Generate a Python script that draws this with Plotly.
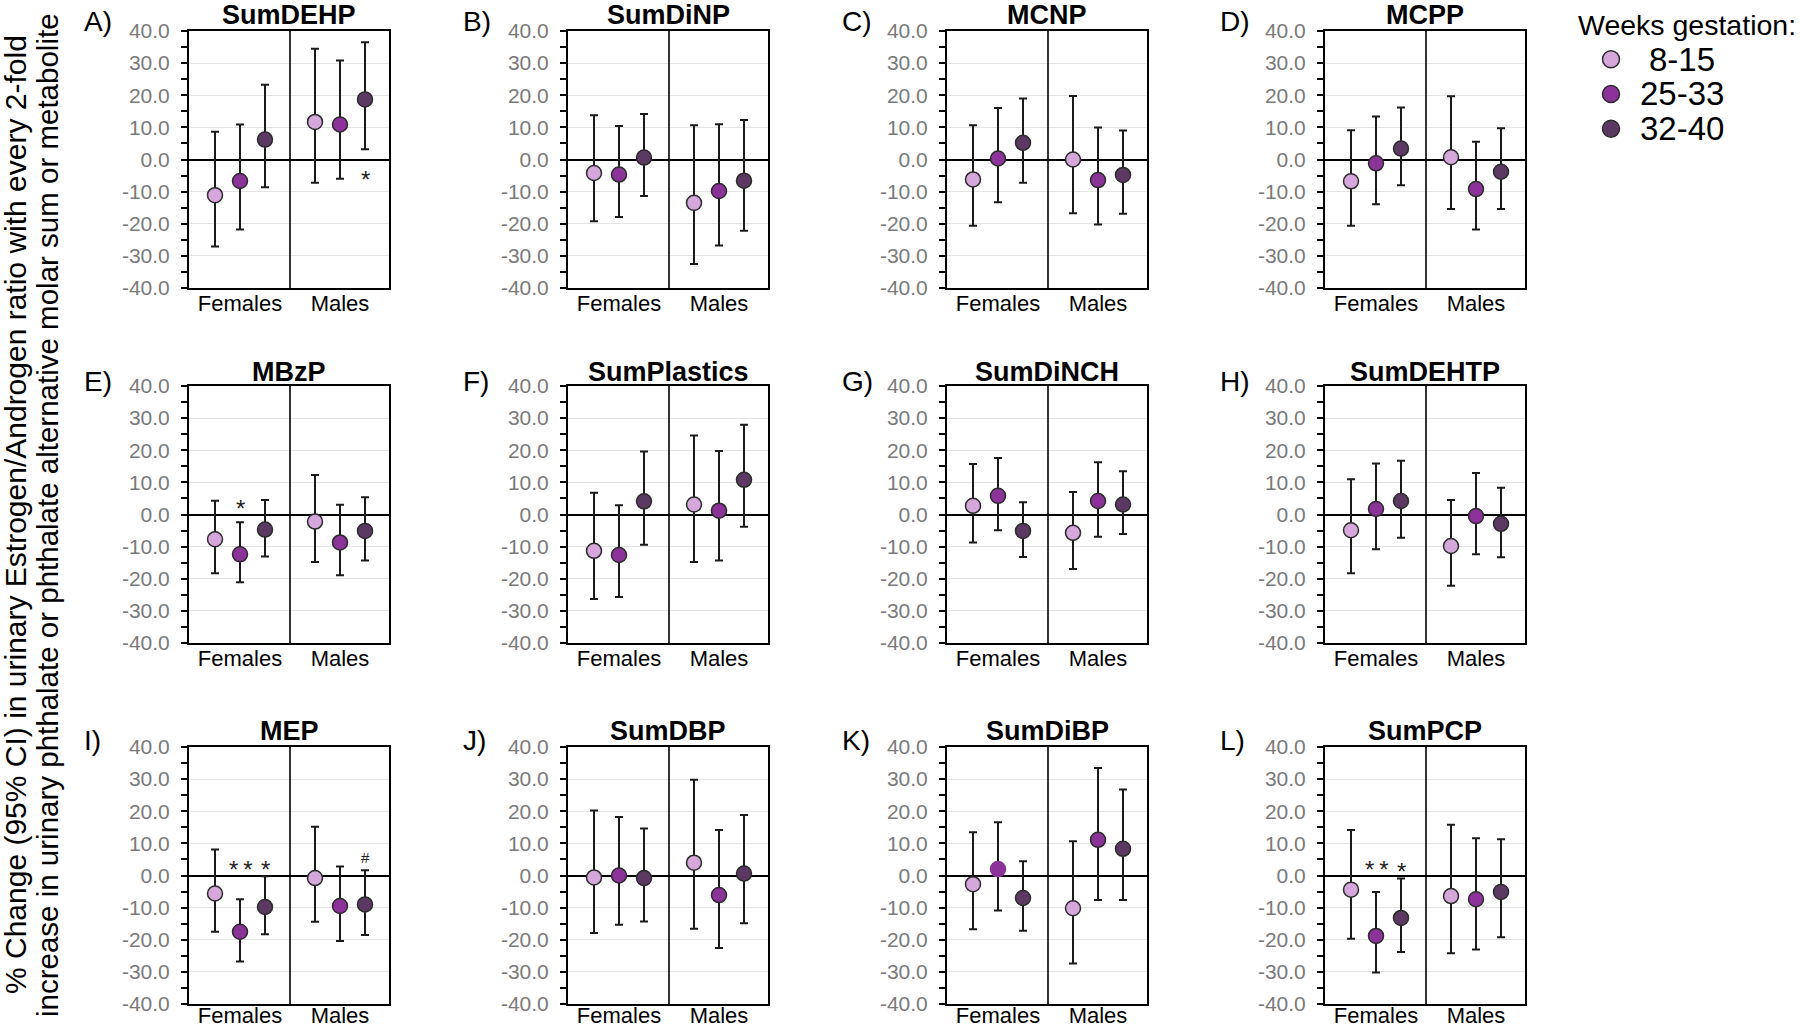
import plotly.graph_objects as go

# ---------------- data ----------------
panel_labels = ["A)", "B)", "C)", "D)", "E)", "F)", "G)", "H)", "I)", "J)", "K)", "L)"]
titles = ["SumDEHP", "SumDiNP", "MCNP", "MCPP", "MBzP", "SumPlastics",
          "SumDiNCH", "SumDEHTP", "MEP", "SumDBP", "SumDiBP", "SumPCP"]
groups = ["Females", "Males"]
windows = ["8-15", "25-33", "32-40"]
y_ticks = [-40, -30, -20, -10, 0, 10, 20, 30, 40]

# each entry: [Females, Males] per panel A..L
est_8_15 = [[-11.1, 11.7], [-4.2, -13.5], [-6.2, 0.0], [-6.8, 0.7], [-7.7, -2.2], [-11.3, 3.1],
            [2.7, -5.7], [-4.9, -9.8], [-5.6, -0.8], [-0.6, 4.0], [-2.7, -10.2], [-4.4, -6.4]]
lo_8_15 = [[-27.1, -7.2], [-19.2, -32.5], [-20.6, -16.7], [-20.6, -15.4], [-18.3, -14.8], [-26.3, -14.8],
           [-8.7, -17.0], [-18.3, -22.2], [-17.5, -14.4], [-17.9, -16.6], [-16.7, -27.4], [-19.7, -24.2]]
hi_8_15 = [[8.6, 34.5], [13.8, 10.7], [10.7, 19.8], [9.1, 19.7], [4.3, 12.3], [6.8, 24.6],
           [15.7, 7.0], [11.0, 4.5], [8.1, 15.2], [20.2, 29.8], [13.5, 10.7], [14.2, 15.8]]

est_25_33 = [[-6.7, 10.9], [-4.7, -9.8], [0.3, -6.4], [-1.2, -9.2], [-12.4, -8.7], [-12.6, 1.2],
             [5.8, 4.2], [1.7, -0.5], [-17.5, -9.5], [0.0, -6.1], [2.0, 11.1], [-18.8, -7.4]]
lo_25_33 = [[-21.8, -6.0], [-17.9, -26.8], [-13.3, -20.2], [-13.9, -21.8], [-21.1, -18.9], [-25.7, -14.3],
            [-4.9, -6.9], [-10.8, -12.4], [-26.8, -20.4], [-15.3, -22.6], [-10.9, -7.6], [-30.2, -23.0]]
hi_25_33 = [[10.9, 30.8], [10.4, 11.0], [16.0, 10.0], [13.4, 5.5], [-2.4, 3.0], [2.9, 19.8],
            [17.6, 16.3], [15.9, 12.9], [-7.4, 2.8], [18.2, 14.2], [16.6, 33.5], [-5.1, 11.6]]

est_32_40 = [[6.2, 18.7], [0.6, -6.6], [5.2, -4.8], [3.4, -3.8], [-4.7, -5.1], [4.1, 10.8],
             [-5.1, 3.1], [4.2, -2.9], [-9.8, -9.0], [-0.8, 0.6], [-7.0, 8.3], [-13.2, -5.1]]
lo_32_40 = [[-8.6, 3.2], [-11.4, -22.2], [-7.2, -16.9], [-8.0, -15.4], [-13.1, -14.3], [-9.4, -3.8],
            [-13.2, -6.1], [-7.2, -13.3], [-18.3, -18.5], [-14.3, -14.9], [-17.2, -7.6], [-23.8, -19.2]]
hi_32_40 = [[23.3, 36.5], [14.2, 12.3], [19.0, 9.0], [16.2, 9.7], [4.5, 5.4], [19.6, 27.9],
            [3.8, 13.5], [16.7, 8.3], [-0.2, 1.6], [14.6, 18.8], [4.4, 26.8], [-0.9, 11.3]]

# significance marks
sig_panel = [0, 4, 8, 8, 8, 11, 11]
sig_window = [2, 1, 1, 2, 2, 1, 2]
sig_group = [1, 0, 0, 0, 1, 0, 0]
sig_y = [-4.1, 4.2, 3.9, 4.1, 6.3, 4.2, 3.5]
sig_text = ["*", "*", "*\u2009*", "*", "#", "*\u2009*", "*"]

y_title_line1 = "% Change (95% CI) in urinary Estrogen/Androgen ratio with every 2-fold"
y_title_line2 = "increase in urinary phthalate or phthalate alternative molar sum or metabolite"
legend_title = "Weeks gestation:"

# ---------------- styling ----------------
W, H = 1800, 1030
colors = ["#d5a7da", "#8c3399", "#5c3963"]
col_left = [189, 568, 947, 1325]
box_w = 200
row_top = [31, 386, 747]
box_h = 257
title_y = [15, 372, 731]
label_y = [21, 382, 740]
cat_standoff = [-5, -5, -9]
FONT = "Liberation Sans, Arial, sans-serif"

est_all = [est_8_15, est_25_33, est_32_40]
lo_all = [lo_8_15, lo_25_33, lo_32_40]
hi_all = [hi_8_15, hi_25_33, hi_32_40]

fig = go.Figure()
annotations = []
shapes = []

group_center = [2, 6]   # Females / Males positions on x axis
offsets = [-1, 0, 1]

for p in range(12):
    r, c = divmod(p, 4)
    ax = "" if p == 0 else str(p + 1)
    xa, ya = "x" + ax, "y" + ax
    x0 = col_left[c] / W
    x1 = (col_left[c] + box_w) / W
    y1 = 1 - row_top[r] / H
    y0 = 1 - (row_top[r] + box_h) / H

    fig.layout["xaxis" + ax] = dict(
        domain=[x0, x1], range=[-0.04, 7.96], anchor=ya,
        showgrid=False, zeroline=False,
        showline=True, linecolor="black", linewidth=2, mirror=True,
        tickmode="array", tickvals=group_center, ticktext=groups, ticks="", ticklen=0,
        tickfont=dict(family=FONT, size=22, color="black"),
        ticklabelstandoff=cat_standoff[r],
        fixedrange=True, automargin=False,
    )
    fig.layout["yaxis" + ax] = dict(
        domain=[y0, y1], range=[-40, 40], anchor=xa,
        tickmode="array", tickvals=y_ticks, ticktext=[f"{v:.1f}" for v in y_ticks],
        ticks="outside", ticklen=6, tickwidth=1.5, tickcolor="black",
        minor=dict(dtick=5, tick0=0, ticks="outside", ticklen=6, tickwidth=1.5,
                   tickcolor="black", showgrid=False),
        showgrid=True, gridcolor="#e3e3e3", gridwidth=1.2,
        zeroline=True, zerolinecolor="black", zerolinewidth=1.6,
        showline=True, linecolor="black", linewidth=2, mirror=True,
        tickfont=dict(family=FONT, size=21, color="#7a7a7a"),
        ticklabelstandoff=7,
        fixedrange=True, automargin=False,
    )
    shapes.append(dict(type="line", xref=xa, yref=ya, x0=4, x1=4, y0=-40, y1=40,
                       line=dict(color="black", width=1.6), layer="above"))

    for w in range(3):
        est = est_all[w][p]
        lo = lo_all[w][p]
        hi = hi_all[w][p]
        xs = [g + offsets[w] for g in group_center]
        line_cols = ["#2b2b2b", "#2b2b2b"]
        if p == 10 and w == 1:
            line_cols = [colors[1], "#2b2b2b"]
        fig.add_trace(go.Scatter(
            x=xs, y=est, xaxis=xa, yaxis=ya, mode="markers", name=windows[w],
            showlegend=False,
            marker=dict(size=15, color=colors[w], line=dict(color=line_cols, width=1.5)),
            error_y=dict(type="data", symmetric=False,
                         array=[h - e for h, e in zip(hi, est)],
                         arrayminus=[e - l for e, l in zip(est, lo)],
                         color="#1a1a1a", thickness=2, width=4),
            hovertemplate=f"{titles[p]} %{{x}}<br>{windows[w]}: %{{y:.1f}}<extra></extra>",
        ))

    annotations.append(dict(xref="paper", yref="paper", x=(col_left[c] + box_w / 2) / W,
                            y=1 - title_y[r] / H, text=f"<b>{titles[p]}</b>", showarrow=False,
                            xanchor="center", yanchor="middle",
                            font=dict(family=FONT, size=27, color="black")))
    annotations.append(dict(xref="paper", yref="paper", x=(col_left[c] - 107) / W,
                            y=1 - label_y[r] / H, text=panel_labels[p], showarrow=False,
                            xanchor="left", yanchor="middle",
                            font=dict(family=FONT, size=28, color="black")))

for p, w, g, yv, t in zip(sig_panel, sig_window, sig_group, sig_y, sig_text):
    ax = "" if p == 0 else str(p + 1)
    annotations.append(dict(xref="x" + ax, yref="y" + ax, x=group_center[g] + offsets[w], y=yv,
                            text=t, showarrow=False, xanchor="center", yanchor="middle",
                            yshift=-7 if t != "#" else -2,
                            font=dict(family=FONT, size=24 if t != "#" else 15, color="#222222")))

# y axis title (two lines)
annotations.append(dict(xref="paper", yref="paper", x=15 / W, y=0.5, text=y_title_line1,
                        textangle=-90, showarrow=False, xanchor="center", yanchor="middle",
                        font=dict(family=FONT, size=30, color="black")))
annotations.append(dict(xref="paper", yref="paper", x=47 / W, y=0.5, text=y_title_line2,
                        textangle=-90, showarrow=False, xanchor="center", yanchor="middle",
                        font=dict(family=FONT, size=29.5, color="black")))

# ---------------- legend (drawn on its own hidden axes) ----------------
leg_rows = [0, 1, 2]
fig.layout["xaxis13"] = dict(domain=[1600 / W, 1622 / W], range=[0, 1], visible=False,
                             anchor="y13", fixedrange=True)
fig.layout["yaxis13"] = dict(domain=[1 - 146 / H, 1 - 42 / H], range=[2.5, -0.5], visible=False,
                             anchor="x13", fixedrange=True)
for w in range(3):
    fig.add_trace(go.Scatter(
        x=[0.5], y=[leg_rows[w]], xaxis="x13", yaxis="y13", mode="markers",
        showlegend=False, hoverinfo="skip",
        marker=dict(size=17, color=colors[w], line=dict(color="#2b2b2b", width=1.5)),
    ))
    annotations.append(dict(xref="paper", yref="y13", x=1682 / W, y=leg_rows[w],
                            text=windows[w], showarrow=False, xanchor="center", yanchor="middle",
                            font=dict(family=FONT, size=33, color="black")))
annotations.append(dict(xref="paper", yref="paper", x=1576 / W, y=1 - 25 / H,
                        text=legend_title, showarrow=False, xanchor="left", yanchor="middle",
                        font=dict(family=FONT, size=28.5, color="black")))

fig.update_layout(
    width=W, height=H,
    margin=dict(l=0, r=0, t=0, b=0, pad=0),
    paper_bgcolor="white", plot_bgcolor="white",
    font=dict(family=FONT),
    annotations=annotations,
    shapes=shapes,
    showlegend=False,
)

fig.write_html("out.html",
               config={"displayModeBar": False},
               post_script="document.body.style.margin='0';document.body.style.overflow='hidden';")
